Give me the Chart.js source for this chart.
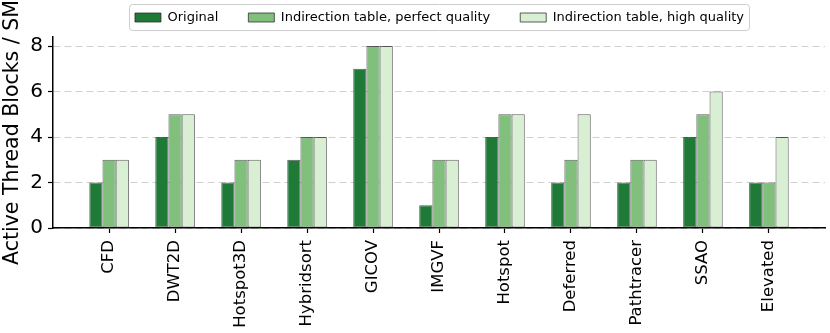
<!DOCTYPE html>
<html lang="en">
<head>
<meta charset="UTF-8">
<title>Active Thread Blocks / SM</title>
<style>
    body { margin: 0; background: #fff; }
    #wrap { width: 830px; height: 333px; position: relative; }
</style>
<script src="https://cdn.jsdelivr.net/npm/chart.js"></script>
</head>
<body>
<div id="wrap"><canvas id="chart"></canvas></div>
<script>
    // data
    var benchmarks = ['CFD', 'DWT2D', 'Hotspot3D', 'Hybridsort', 'GICOV', 'IMGVF', 'Hotspot', 'Deferred', 'Pathtracer', 'SSAO', 'Elevated'];
    var original      = [2, 4, 2, 3, 7, 1, 4, 2, 2, 4, 2];
    var perfectQual   = [3, 5, 3, 4, 8, 3, 5, 3, 3, 5, 2];
    var highQual      = [3, 5, 3, 4, 8, 3, 5, 5, 3, 6, 4];
    var yTicks = [0, 2, 4, 6, 8];

    var FONT = "'DejaVu Sans', sans-serif";

    function pts(arr) {
        return arr.map(function (v, i) { return { x: i, y: v }; });
    }

    function mkSet(label, arr, color) {
        return {
            label: label,
            data: pts(arr),
            backgroundColor: color,
            borderColor: 'rgba(40,40,40,0.75)',
            borderWidth: 1,
            borderSkipped: false,
            categoryPercentage: 0.6,
            barPercentage: 1.0
        };
    }

    function legendExtent(boxes) {
        var e = { l: Infinity, r: -Infinity, t: Infinity, b: -Infinity };
        boxes.forEach(function (h) {
            e.l = Math.min(e.l, h.left); e.r = Math.max(e.r, h.left + h.width);
            e.t = Math.min(e.t, h.top); e.b = Math.max(e.b, h.top + h.height);
        });
        return e;
    }

    // legend tweaks: a bit more room under it, centred over the plot area,
    // and the rounded frame matplotlib draws around it
    var legendFrame = {
        id: 'legendFrame',
        beforeLayout: function (chart) {
            var lg = chart.legend;
            if (lg && !lg._patched) {
                var fit = lg.fit;
                lg.fit = function () { fit.call(this); this.height += 3; };
                lg._patched = true;
            }
        },
        beforeDraw: function (chart) {
            var lg = chart.legend, area = chart.chartArea;
            var boxes = lg.legendHitBoxes;
            if (!boxes || !boxes.length) return;
            var e = legendExtent(boxes);
            var shift = Math.round((area.left + area.right) / 2 - (e.l + e.r) / 2);
            if (!shift) return;
            lg.left += shift;
            lg.right += shift;
            boxes.forEach(function (h) { h.left += shift; });
        },
        afterDraw: function (chart) {
            var boxes = chart.legend.legendHitBoxes;
            if (!boxes || !boxes.length) return;
            var e = legendExtent(boxes);
            var ctx = chart.ctx;
            ctx.save();
            ctx.strokeStyle = '#cccccc';
            ctx.lineWidth = 1;
            ctx.beginPath();
            ctx.roundRect(Math.round(e.l) - 5.5, Math.round(e.t) - 6.5, Math.round(e.r - e.l) + 11, Math.round(e.b - e.t) + 13, 3);
            ctx.stroke();
            ctx.restore();
        }
    };

    var ctx = document.getElementById('chart').getContext('2d');
    var chart = new Chart(ctx, {
        type: 'bar',
        data: {
            datasets: [
                mkSet('Original', original, '#1f7a38'),
                mkSet('Indirection table, perfect quality', perfectQual, '#80c07c'),
                mkSet('Indirection table, high quality', highQual, '#d9efd3')
            ]
        },
        options: {
            responsive: true,
            maintainAspectRatio: false,
            animation: false,
            layout: { padding: { left: 0, right: 5, top: -19, bottom: 0 } },
            plugins: {
                tooltip: { enabled: false },
                legend: {
                    position: 'top',
                    align: 'center',
                    labels: {
                        boxWidth: 26,
                        boxHeight: 9,
                        padding: 30,
                        color: '#000',
                        font: { family: FONT, size: 13 }
                    }
                }
            },
            scales: {
                x: {
                    type: 'linear',
                    min: -0.85,
                    max: benchmarks.length - 1 + 0.85,
                    offset: false,
                    afterBuildTicks: function (scale) {
                        scale.ticks = benchmarks.map(function (b, i) { return { value: i }; });
                    },
                    afterFit: function (scale) { scale.height = 105; },
                    ticks: {
                        autoSkip: false,
                        maxRotation: 90,
                        minRotation: 90,
                        padding: 7,
                        color: '#000',
                        font: { family: FONT, size: 16.5 },
                        callback: function (v) { return benchmarks[v]; }
                    },
                    grid: {
                        offset: false,
                        drawOnChartArea: false,
                        tickLength: 5,
                        tickColor: '#000',
                        tickWidth: 1.2
                    },
                    border: { color: '#000', width: 1.5 }
                },
                y: {
                    min: 0,
                    max: 8.4,
                    afterBuildTicks: function (scale) {
                        scale.ticks = yTicks.map(function (v) { return { value: v }; });
                    },
                    afterFit: function (scale) { scale.width = 53; },
                    ticks: {
                        includeBounds: false,
                        padding: 5,
                        color: '#000',
                        font: { family: FONT, size: 20 }
                    },
                    grid: {
                        color: '#d0d0d0',
                        lineWidth: 1,
                        tickLength: 5,
                        tickColor: '#000',
                        tickWidth: 1.2
                    },
                    border: { color: '#000', width: 1.5, dash: [7, 4] },
                    title: {
                        display: true,
                        text: 'Active Thread Blocks / SM',
                        color: '#000',
                        padding: { top: 0, bottom: 0 },
                        font: { family: FONT, size: 20.5 }
                    }
                }
            }
        },
        plugins: [legendFrame]
    });
</script>
</body>
</html>
